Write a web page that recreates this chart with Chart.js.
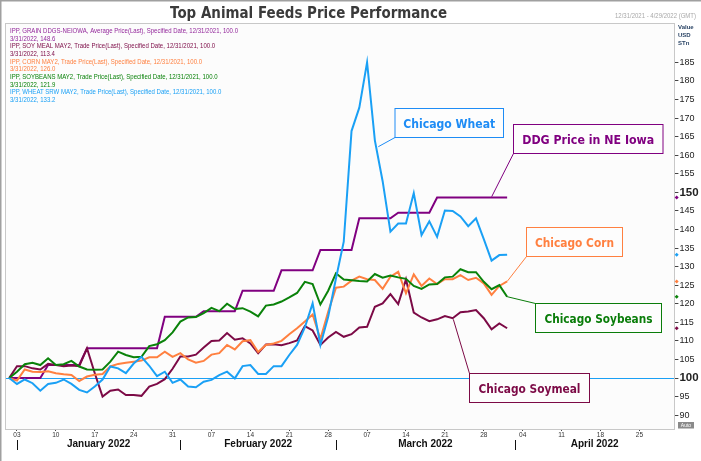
<!DOCTYPE html>
<html><head><meta charset="utf-8">
<script src="https://cdn.jsdelivr.net/npm/chart.js@4.4.1/dist/chart.umd.min.js"></script>
<style>html,body{margin:0;padding:0;background:#fff}canvas{display:block}</style>
</head><body>
<canvas id="c" width="701" height="461"></canvas>
<script>
// ---- categories: trading days (weekdays) 12/31/2021 .. 4/29/2022
const categories = [
 '2021-12-31',
 '2022-01-03','2022-01-04','2022-01-05','2022-01-06','2022-01-07',
 '2022-01-10','2022-01-11','2022-01-12','2022-01-13','2022-01-14',
 '2022-01-17','2022-01-18','2022-01-19','2022-01-20','2022-01-21',
 '2022-01-24','2022-01-25','2022-01-26','2022-01-27','2022-01-28',
 '2022-01-31','2022-02-01','2022-02-02','2022-02-03','2022-02-04',
 '2022-02-07','2022-02-08','2022-02-09','2022-02-10','2022-02-11',
 '2022-02-14','2022-02-15','2022-02-16','2022-02-17','2022-02-18',
 '2022-02-21','2022-02-22','2022-02-23','2022-02-24','2022-02-25',
 '2022-02-28','2022-03-01','2022-03-02','2022-03-03','2022-03-04',
 '2022-03-07','2022-03-08','2022-03-09','2022-03-10','2022-03-11',
 '2022-03-14','2022-03-15','2022-03-16','2022-03-17','2022-03-18',
 '2022-03-21','2022-03-22','2022-03-23','2022-03-24','2022-03-25',
 '2022-03-28','2022-03-29','2022-03-30','2022-03-31','2022-04-01',
 '2022-04-04','2022-04-05','2022-04-06','2022-04-07','2022-04-08',
 '2022-04-11','2022-04-12','2022-04-13','2022-04-14','2022-04-15',
 '2022-04-18','2022-04-19','2022-04-20','2022-04-21','2022-04-22',
 '2022-04-25','2022-04-26','2022-04-27','2022-04-28','2022-04-29'
];

// ---- series (indexed performance, 12/31/2021 = 100)
const ddgNEIowa = [
 100,100,100,100,100, 103.5,103.5,103.5,103.5,103.5,
 108,108,108,108,108,108,108,108,108,108,
 116.5,116.5,116.5,116.5,116.5, 118,118,118,118,118,
 123.5,123.5,123.5,123.5,123.5, 129,129,129,129,129,
 134.5,134.5,134.5,134.5,134.5, 143,143,143,143,143,
 144.5,144.5,144.5,144.5,144.5,
 148.6,148.6,148.6,148.6,148.6,148.6,148.6,148.6,148.6,148.6
];
const soymeal = [
 100,103.2,103.2,102.6,102.3,103.8,103.5,103.2,103.4,103.2,
 108,101.3,95,96.6,96.9,95.4,95.4,95.2,97.7,98.4,
 99.7,102.5,105.8,105.8,106.3,108.2,110,110.1,112.1,110.3,
 110.7,109.3,106.7,109,109.1,108.8,109.4,110.1,114,112.8,
 108.9,110.9,112.4,111.1,111.8,113.6,113.8,119.2,120.1,122.6,
 119.9,126.6,117.6,116.3,115.3,115.8,116.7,116.1,117.7,117.9,
 118.3,116.1,113.1,114.7,113.4
];
const corn = [
 100,99.3,102.3,101.7,101.6,101.8,101.3,101,100.8,99.2,
 100.4,100.9,101.1,103.1,103.8,104.1,104.4,104.7,105.6,105.6,
 107.1,105.7,106.7,105,104.1,104.6,106.3,106.7,108.9,107.7,
 109.9,110.2,107,108.9,109.3,110,111.8,113.4,115.2,117.1,
 110.5,117.8,124.3,124.6,126.2,127.3,126.6,126.4,124,127.3,
 128.6,122.8,127.9,124.8,126.8,125.3,126.6,126.6,127.7,126.4,
 127,125.5,122.4,124.8,126.0
];
const soybeans = [
 100,101.7,103.7,104.1,103.5,105.3,103.5,103.7,104.6,103.1,
 102.3,102.2,102.3,104.4,107.1,106.2,105.6,105.7,108.6,109.1,
 110.2,112.3,115.2,116.3,116.4,117.5,118.9,118,120,118.6,
 118.8,117.9,116.6,119.5,119.8,120.6,121.7,122.9,125.9,125.3,
 119.8,123.5,128.2,126.5,126.3,126.1,126,128,127,127.6,
 127.1,126.7,124.8,124,125.2,125.3,127.1,127.3,129.3,128.5,
 128.5,125.9,123.9,125,121.9
];
const wheat = [
 100,98.4,99.6,98.6,96.6,98.4,98.7,99.6,98.4,96.8,
 96.1,97.7,99.6,103.1,102.6,101.3,103.9,105.7,103.3,100.5,
 101.7,98.7,99.6,97.7,97.5,99,99.5,100.8,101.7,99.9,
 103.2,103.5,101.1,101.1,103.2,103.2,106.2,108.9,113.6,120.1,
 108.9,116.5,126.8,136.7,166.5,172.8,185,164,153,139.4,
 141.6,141.6,149.8,138.5,142.2,138,145.1,145,143.5,140.9,
 143,137.4,131.6,133.1,133.2
];

const yTickValues = [90,95,100,105,110,115,120,125,130,135,140,145,150,155,160,165,170,175,180,185];
const monthLabels = ['January 2022','February 2022','March 2022','April 2022'];
const monthStarts = ['2022-01-03','2022-02-01','2022-03-01','2022-04-01'];
const seriesNames = ['Chicago Wheat','DDG Price in NE Iowa','Chicago Corn','Chicago Soybeans','Chicago Soymeal'];
const legendHeads = [
 'IPP, GRAIN DDGS-NEIOWA, Average Price(Last), Specified Date, 12/31/2021, 100.0',
 'IPP, SOY MEAL MAY2, Trade Price(Last), Specified Date, 12/31/2021, 100.0',
 'IPP, CORN MAY2, Trade Price(Last), Specified Date, 12/31/2021, 100.0',
 'IPP, SOYBEANS MAY2, Trade Price(Last), Specified Date, 12/31/2021, 100.0',
 'IPP, WHEAT SRW MAY2, Trade Price(Last), Specified Date, 12/31/2021, 100.0'
];
const lastDateLabel = '3/31/2022';

const C = { ddg:'#800080', meal:'#7C0A46', corn:'#FF8040', soy:'#0A820A', wheat:'#1AA0F5' };

function drawFit(ctx, text, x, y, w, font, color, align){
  ctx.save();
  ctx.font = font;
  const m = ctx.measureText(text).width;
  const sx = w ? w / m : 1;
  ctx.translate(x, y);
  ctx.scale(sx, 1);
  ctx.fillStyle = color;
  ctx.textAlign = align || 'center';
  ctx.textBaseline = 'alphabetic';
  ctx.fillText(text, 0, 0);
  ctx.restore();
  return sx;
}

const decor = {
  id: 'decor',
  beforeDraw(chart){
    const {ctx, chartArea:a} = chart;
    ctx.save();
    ctx.fillStyle = '#fff';
    ctx.fillRect(0,0,chart.width,chart.height);
    ctx.fillStyle = '#fcfcfc';
    ctx.fillRect(a.left, a.top, a.right-a.left, a.bottom-a.top);
    ctx.restore();
  },
  beforeDatasetsDraw(chart){
    const {ctx, chartArea:a, scales:{y}} = chart;
    const py = Math.round(y.getPixelForValue(100)) + 0.5;
    ctx.save();
    ctx.strokeStyle = C.wheat; ctx.lineWidth = 1;
    ctx.beginPath(); ctx.moveTo(a.left, py); ctx.lineTo(a.right, py); ctx.stroke();
    ctx.restore();
  },
  afterDraw(chart){
    const {ctx, chartArea:a, scales:{x, y}} = chart;
    ctx.save();
    // outer frame
    ctx.strokeStyle = '#a0a0a0'; ctx.lineWidth = 1.5;
    ctx.beginPath(); ctx.moveTo(0.75, chart.height); ctx.lineTo(0.75, 0.75); ctx.lineTo(chart.width, 0.75); ctx.stroke();
    // plot box
    ctx.strokeStyle = '#c8c8c8'; ctx.lineWidth = 1;
    ctx.strokeRect(Math.round(a.left)+0.5, Math.round(a.top)+0.5, Math.round(a.right-a.left), Math.round(a.bottom-a.top));
    // title
    drawFit(ctx, 'Top Animal Feeds Price Performance', 308.5, 17.5, 277, 'bold 16.5px "DejaVu Sans"', '#3a3a3a');
    // date range
    drawFit(ctx, '12/31/2021 - 4/29/2022 (GMT)', 696, 18, 81, '6.5px "Liberation Sans"', '#a8a8a8', 'right');
    // right axis header
    ctx.font = 'bold 6px "Liberation Sans"'; ctx.fillStyle = '#2b4566'; ctx.textAlign='left'; ctx.textBaseline='middle';
    ctx.fillText('Value', 678, 27.7); ctx.fillText('USD', 678, 35); ctx.fillText('STn', 678, 43);
    // legend text block
    const series = [ddgNEIowa, soymeal, corn, soybeans, wheat];
    const cols = ['#93279B', C.meal, C.corn, C.soy, C.wheat];
    ctx.font = '6.3px "Liberation Sans"';
    const sx = 228 / ctx.measureText(legendHeads[0]).width;
    for (let k=0;k<5;k++){
      const yy = 32.8 + k*15.4;
      const last = series[k][series[k].length-1];
      [legendHeads[k], lastDateLabel + ', ' + last.toFixed(1)].forEach((t,j)=>{
        ctx.save(); ctx.translate(10, yy + j*7.7); ctx.scale(sx,1);
        ctx.font = '6.3px "Liberation Sans"'; ctx.fillStyle = cols[k]; ctx.textAlign='left'; ctx.textBaseline='alphabetic';
        ctx.fillText(t, 0, 0); ctx.restore();
      });
    }
    // month separators and labels
    const starts = monthStarts.map(d => categories.indexOf(d));
    ctx.strokeStyle = '#111'; ctx.lineWidth = 1;
    starts.forEach((si, k) => {
      const px = Math.round(x.getPixelForValue(si)) + 0.5;
      ctx.beginPath(); ctx.moveTo(px, 440); ctx.lineTo(px, 450); ctx.stroke();
      const nx = k < starts.length-1 ? x.getPixelForValue(starts[k+1]) : a.right;
      const cx = (x.getPixelForValue(si) + nx) / 2;
      ctx.font = 'bold 10px "Liberation Sans"'; ctx.fillStyle = '#111'; ctx.textAlign='center'; ctx.textBaseline='middle';
      ctx.fillText(monthLabels[k], cx, 444.5);
    });
    // right-axis last-value markers
    const lastIdx = wheat.length - 1;
    series.forEach((s,k) => {
      const py = y.getPixelForValue(s[s.length-1]);
      const px = a.right + 2.3;
      ctx.fillStyle = [C.ddg, C.meal, C.corn, C.soy, C.wheat][k];
      ctx.beginPath(); ctx.moveTo(px, py-2); ctx.lineTo(px+2, py); ctx.lineTo(px, py+2); ctx.lineTo(px-2, py); ctx.closePath(); ctx.fill();
    });
    // callouts
    const lp = (i, v) => [x.getPixelForValue(i), y.getPixelForValue(v)];
    const callouts = [
      {t: seriesNames[0], c:'#1E8CF5', box:[395,108.5,503.5,137.5], tw:92, l:[395,137.5,378.3,146.7]},
      {t: seriesNames[1], c:C.ddg, box:[513.5,124.5,663,153.5], tw:132, l:[513.5,153.5,491.7,196.7]},
      {t: seriesNames[2], c:C.corn, box:[526.5,227.5,622.5,256.5], tw:79, l:[526.5,256.5].concat(lp(lastIdx, corn[lastIdx]))},
      {t: seriesNames[3], c:'#0A7D0A', box:[535.5,303.5,661.5,332.5], tw:108, l:[535.5,303.5].concat(lp(lastIdx, soybeans[lastIdx]))},
      {t: seriesNames[4], c:'#7C0A46', box:[469.5,373.5,589.5,402.5], tw:102, l:[453.3,319.3,469.5,373.5]}
    ];
    callouts.forEach(o => {
      const [x1,y1,x2,y2] = o.box;
      ctx.fillStyle = '#fdfdfd'; ctx.fillRect(x1,y1,x2-x1,y2-y1);
      ctx.strokeStyle = o.c; ctx.lineWidth = 1; ctx.strokeRect(x1,y1,x2-x1,y2-y1);
      ctx.beginPath(); ctx.moveTo(o.l[0],o.l[1]); ctx.lineTo(o.l[2],o.l[3]); ctx.stroke();
      drawFit(ctx, o.t, (x1+x2)/2, (y1+y2)/2 + 4.8, o.tw, 'bold 13px "DejaVu Sans"', o.c);
    });
    // Auto button
    ctx.fillStyle = '#8a8a8a'; ctx.fillRect(678, 422, 16, 6.5);
    ctx.font = '5px "Liberation Sans"'; ctx.fillStyle = '#fff'; ctx.textAlign='center'; ctx.textBaseline='middle';
    ctx.fillText('Auto', 686, 425.5);
    ctx.restore();
  }
};

new Chart(document.getElementById('c'), {
  type: 'line',
  data: {
    labels: categories,
    datasets: [
      {label:'Chicago Wheat', data: wheat, borderColor: C.wheat, order: 0},
      {label:'Chicago Soybeans', data: soybeans, borderColor: C.soy, order: 1},
      {label:'Chicago Corn', data: corn, borderColor: C.corn, order: 2},
      {label:'Chicago Soymeal', data: soymeal, borderColor: C.meal, order: 3},
      {label:'DDG Price in NE Iowa', data: ddgNEIowa, borderColor: C.ddg, order: 4}
    ]
  },
  options: {
    responsive: false, animation: false, devicePixelRatio: 1,
    layout: { padding: { left: 5.3, top: 23, right: 0, bottom: 0 } },
    plugins: { legend: {display:false}, tooltip: {enabled:false}, title: {display:false} },
    elements: { point: { radius: 0 }, line: { borderWidth: 2, tension: 0, fill: false } },
    scales: {
      x: {
        type: 'category', offset: true,
        grid: { drawOnChartArea: false, drawTicks: true, tickLength: 2, color: '#444' },
        border: { display: false },
        ticks: {
          autoSkip: false, maxRotation: 0, minRotation: 0, padding: 0,
          color: '#333', font: { size: 6.5, family: '"Liberation Sans"' },
          callback(v, i){
            const d = new Date(categories[i] + 'T00:00:00Z');
            return d.getUTCDay() === 1 ? categories[i].slice(8) : null;
          }
        },
        afterFit(s){ s.height = 32; }
      },
      y: {
        position: 'right', min: 86.27, max: 195.6,
        afterBuildTicks(s){ s.ticks = yTickValues.map(v => ({value: v})); },
        grid: { drawOnChartArea: false, tickLength: 4, color: '#444' },
        border: { display: false },
        ticks: {
          padding: 1, color: '#222',
          font: (c) => (c.tick && (c.tick.value === 100 || c.tick.value === 150))
            ? { size: 11.5, weight: 'bold', family: '"Liberation Sans"' }
            : { size: 9, family: '"Liberation Sans"' },
          callback: (v) => String(v)
        },
        afterFit(s){ s.width = 26.6; }
      }
    }
  },
  plugins: [decor]
});
</script>
</body></html>
